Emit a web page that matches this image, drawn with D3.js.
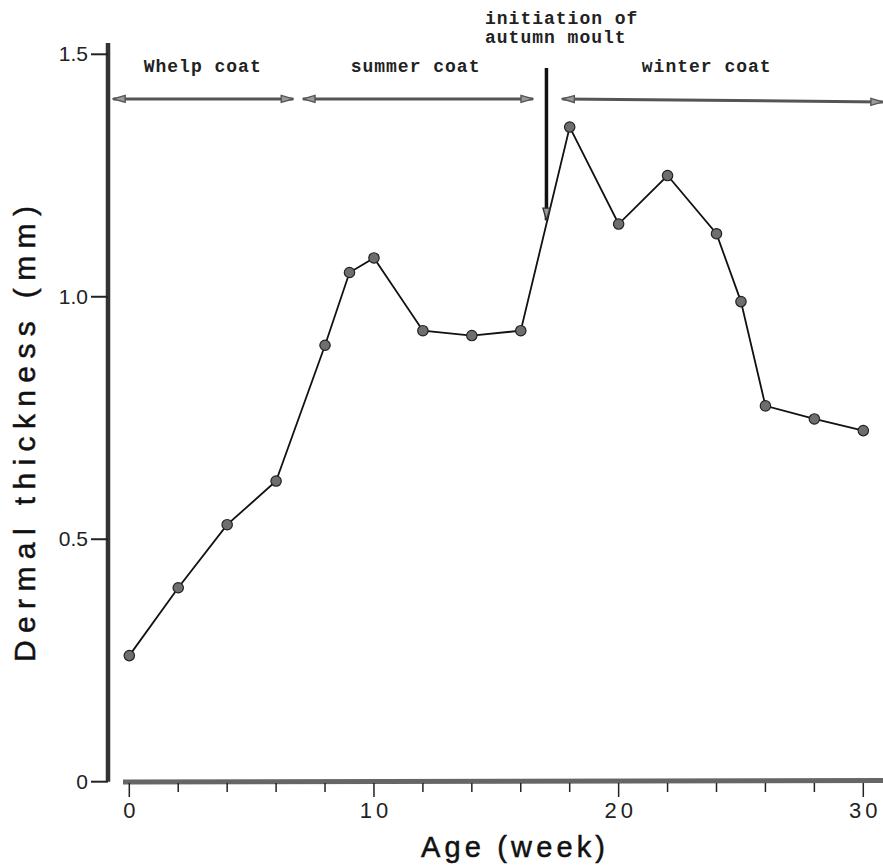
<!DOCTYPE html>
<html>
<head>
<meta charset="utf-8">
<script src="https://cdn.jsdelivr.net/npm/d3@7"></script>
<style>
  html, body { margin: 0; padding: 0; background: #fff; }
  svg { display: block; }
</style>
</head>
<body>
<div id="chart"></div>
<script>
// Dermal thickness against age, with coat phases marked along the top.
var weeks     = [0, 2, 4, 6, 8, 9, 10, 12, 14, 16, 18, 20, 22, 24, 25, 26, 28, 30];
var thickness = [0.26, 0.40, 0.53, 0.62, 0.90, 1.05, 1.08, 0.93, 0.92, 0.93, 1.35, 1.15, 1.25, 1.13, 0.99, 0.775, 0.748, 0.724];

var xTicks = [0, 10, 20, 30];
var xMinorTicks = [2, 4, 6, 8, 12, 14, 16, 18, 22, 24, 26, 28];
var yTicks = [0, 0.5, 1.0, 1.5];
var yTickLabels = ["0", "0.5", "1.0", "1.5"];

// coat phases (weeks) for the double-headed arrows
var phaseNames = ["Whelp coat", "summer coat", "winter coat"];
var phaseStart = [-0.66, 7.1, 17.7];
var phaseEnd   = [6.7, 16.5, 30.8];
var phaseLabelAt = [3.0, 11.7, 23.6];
var phaseLevel = 1.408;
var phaseLabelLevel = 1.463;

var moultWeek = 17.05;
var moultFrom = 1.472;
var moultTo = 1.158;
var moultText = ["initiation of", "autumn moult"];

var width = 883, height = 866;

var x = d3.scaleLinear().domain([0, 30]).range([129.3, 863.3]);
var y = d3.scaleLinear().domain([0, 1.5]).range([781.7, 54.3]);

var svg = d3.select("#chart").append("svg")
  .attr("width", width)
  .attr("height", height);

var defs = svg.append("defs");
function arrowHead(id, color) {
  defs.append("marker")
    .attr("id", id)
    .attr("viewBox", "0 0 14 10")
    .attr("refX", 13)
    .attr("refY", 5)
    .attr("markerWidth", 14)
    .attr("markerHeight", 10)
    .attr("markerUnits", "userSpaceOnUse")
    .attr("orient", "auto-start-reverse")
    .append("path")
    .attr("d", "M1,1.5 L13,5 L1,8.5 Z")
    .attr("fill", "#9a9a9a")
    .attr("stroke", color)
    .attr("stroke-width", 1.4);
}
arrowHead("head-gray", "#555");
arrowHead("head-dark", "#333");

var sans = "'Liberation Sans', Arial, sans-serif";

// y axis: thick line with ticks to the left
var yAxis = svg.append("g");
yAxis.append("line")
  .attr("x1", 108).attr("x2", 108)
  .attr("y1", 43).attr("y2", y(0))
  .attr("stroke", "#333").attr("stroke-width", 4.5);
yAxis.selectAll("line.tick")
  .data(yTicks)
  .join("line")
  .attr("class", "tick")
  .attr("x1", 91).attr("x2", 108)
  .attr("y1", function (d) { return y(d); })
  .attr("y2", function (d) { return y(d); })
  .attr("stroke", "#222").attr("stroke-width", 2);
yAxis.selectAll("text")
  .data(yTicks)
  .join("text")
  .attr("x", 88)
  .attr("y", function (d) { return y(d) + 7; })
  .attr("text-anchor", "end")
  .attr("font-family", sans)
  .attr("font-size", 21)
  .attr("fill", "#222")
  .text(function (d, i) { return yTickLabels[i]; });

// x axis: thick gray bar with downward ticks
var xAxis = svg.append("g");
xAxis.append("line")
  .attr("x1", 123).attr("x2", width)
  .attr("y1", 782).attr("y2", 780.5)
  .attr("stroke", "#666").attr("stroke-width", 5);
xAxis.selectAll("line.minor")
  .data(xMinorTicks)
  .join("line")
  .attr("class", "minor")
  .attr("x1", function (d) { return x(d); })
  .attr("x2", function (d) { return x(d); })
  .attr("y1", 783).attr("y2", 792)
  .attr("stroke", "#222").attr("stroke-width", 1.5);
xAxis.selectAll("line.major")
  .data(xTicks)
  .join("line")
  .attr("class", "major")
  .attr("x1", function (d) { return x(d); })
  .attr("x2", function (d) { return x(d); })
  .attr("y1", 783).attr("y2", 797)
  .attr("stroke", "#222").attr("stroke-width", 1.5);
xAxis.selectAll("text")
  .data(xTicks)
  .join("text")
  .attr("x", function (d) { return x(d) + 2; })
  .attr("y", 818)
  .attr("text-anchor", "middle")
  .attr("font-family", sans)
  .attr("font-size", 22)
  .attr("letter-spacing", 4)
  .attr("fill", "#222")
  .text(function (d) { return d; });

// axis titles
svg.append("text")
  .attr("x", 421)
  .attr("y", 857)
  .attr("font-family", sans)
  .attr("font-size", 29)
  .attr("textLength", 184)
  .attr("lengthAdjust", "spacing")
  .attr("fill", "#111")
  .attr("stroke", "#111")
  .attr("stroke-width", 0.5)
  .text("Age (week)");

svg.append("text")
  .attr("transform", "translate(35,662) rotate(-90)")
  .attr("font-family", sans)
  .attr("font-size", 30)
  .attr("textLength", 456)
  .attr("lengthAdjust", "spacing")
  .attr("fill", "#111")
  .attr("stroke", "#111")
  .attr("stroke-width", 0.5)
  .text("Dermal thickness (mm)");

// data line and markers
var points = weeks.map(function (w, i) { return [w, thickness[i]]; });
var line = d3.line()
  .x(function (d) { return x(d[0]); })
  .y(function (d) { return y(d[1]); });

svg.append("path")
  .datum(points)
  .attr("d", line)
  .attr("fill", "none")
  .attr("stroke", "#111")
  .attr("stroke-width", 1.8);

svg.append("g")
  .selectAll("circle")
  .data(points)
  .join("circle")
  .attr("cx", function (d) { return x(d[0]); })
  .attr("cy", function (d) { return y(d[1]); })
  .attr("r", 5.2)
  .attr("fill", "#6e6e6e")
  .attr("stroke", "#222")
  .attr("stroke-width", 1.2);

// coat phase arrows
var annoFont = "'Liberation Mono', 'Courier New', monospace";
var phases = svg.append("g");
phases.selectAll("line")
  .data(phaseNames)
  .join("line")
  .attr("x1", function (d, i) { return x(phaseStart[i]); })
  .attr("x2", function (d, i) { return x(phaseEnd[i]); })
  .attr("y1", y(phaseLevel))
  .attr("y2", function (d, i) { return y(phaseLevel) + (i === 2 ? 3 : 0); })
  .attr("stroke", "#555")
  .attr("stroke-width", 3)
  .attr("marker-start", "url(#head-gray)")
  .attr("marker-end", "url(#head-gray)");
phases.selectAll("text")
  .data(phaseNames)
  .join("text")
  .attr("x", function (d, i) { return x(phaseLabelAt[i]); })
  .attr("y", y(phaseLabelLevel))
  .attr("text-anchor", "middle")
  .attr("font-family", annoFont)
  .attr("font-weight", "bold")
  .attr("font-size", 18)
  .attr("letter-spacing", 1)
  .attr("fill", "#222")
  .text(function (d) { return d; });

// autumn moult arrow
svg.append("line")
  .attr("x1", x(moultWeek)).attr("x2", x(moultWeek))
  .attr("y1", y(moultFrom)).attr("y2", y(moultTo))
  .attr("stroke", "#111")
  .attr("stroke-width", 3.5)
  .attr("marker-end", "url(#head-dark)");
svg.append("g")
  .selectAll("text")
  .data(moultText)
  .join("text")
  .attr("x", 485)
  .attr("y", function (d, i) { return 24 + i * 19; })
  .attr("font-family", annoFont)
  .attr("font-weight", "bold")
  .attr("font-size", 18)
  .attr("letter-spacing", 1)
  .attr("fill", "#222")
  .text(function (d) { return d; });
</script>
</body>
</html>
